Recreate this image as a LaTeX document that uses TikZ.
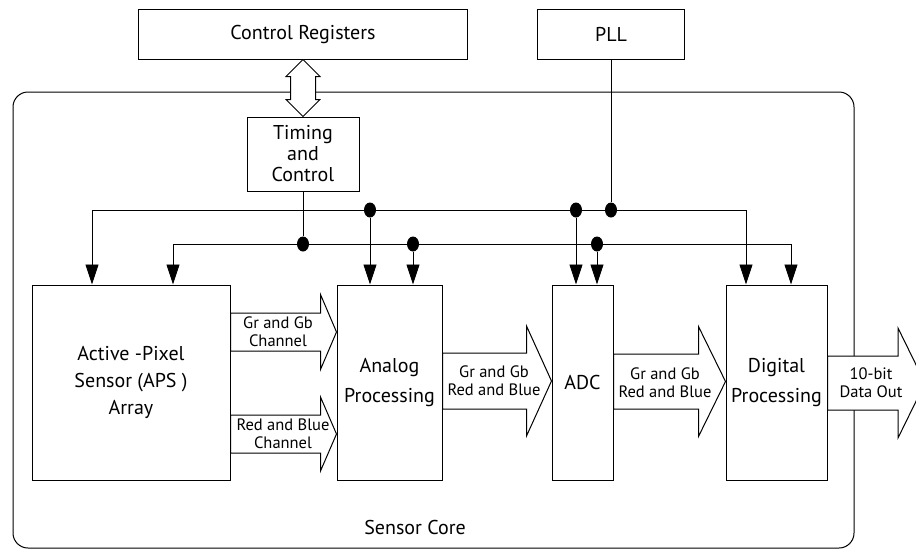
\documentclass[tikz,border=0pt]{standalone}
\usepackage{fontspec}
\setmainfont{PT Sans}
\usetikzlibrary{shapes}
\usetikzlibrary{calc}
\usetikzlibrary{arrows.meta}
\tikzset{
    blockn/.style = {rectangle, draw=black, line width=1pt, fill=white, align=center, inner sep=0pt, font=\fontsize{20}{21}\selectfont},
    dotn/.style = {ellipse, fill=black, minimum width=12pt, minimum height=15pt, inner sep=0pt},
    edgen/.style = {-{Triangle[length=20pt,width=13pt]}, line width=0.9pt},
    busn/.style = {line width=0.9pt},
    fatn/.style = {draw=black, fill=white, line width=1pt, line join=miter},
    smalln/.style = {align=center, inner sep=0pt, font=\fontsize{16.5}{18}\selectfont},
}
% fat arrow: from, to, y, shaft half, head half, head length
\newcommand{\fatarrow}[6]{%
  \draw[fatn] ($(#1 |- 0,#3)+(0,#4)$) -- ($(#2 |- 0,#3)+(-#6,#4)$)
    -- ($(#2 |- 0,#3)+(-#6,#5)$) -- (#2 |- 0,#3)
    -- ($(#2 |- 0,#3)+(-#6,-#5)$) -- ($(#2 |- 0,#3)+(-#6,-#4)$)
    -- ($(#1 |- 0,#3)+(0,-#4)$) -- cycle;}

\begin{document}
\begin{tikzpicture}[x=1pt, y=-1pt]
  \useasboundingbox (0,0) rectangle (916,552);

  % sensor core frame
  \node[draw=black, line width=1pt, rounded corners=15pt, minimum width=841pt, minimum height=456pt, inner sep=0pt] (core) at (433.5,320) {};
  \node[inner sep=0pt, font=\fontsize{20}{21}\selectfont] (corelabel) at (415,527) {Sensor Core};

  % blocks
  \node[blockn, minimum width=329pt, minimum height=50pt] (creg) at (303,34) {Control Registers};
  \node[blockn, minimum width=147pt, minimum height=50pt] (pll) at (611,34) {PLL};
  \node[blockn, minimum width=112pt, minimum height=74pt] (timing) at (303,154) {Timing\\and\\Control};
  \node[blockn, minimum width=198pt, minimum height=195pt, font=\fontsize{20}{27}\selectfont] (aps) at (131,382.5) {Active -Pixel\\Sensor (APS )\\Array};
  \node[blockn, minimum width=105pt, minimum height=195pt, font=\fontsize{20}{30}\selectfont] (analog) at (389.5,382.5) {Analog\\Processing};
  \node[blockn, minimum width=61pt, minimum height=195pt] (adc) at (582.5,382.5) {ADC};
  \node[blockn, minimum width=101pt, minimum height=195pt, font=\fontsize{20}{30}\selectfont] (digital) at (776.5,382.5) {Digital\\Processing};

  % control registers <-> timing
  \draw[fatn] (creg.south) -- ++(17,17) -- ++(-4.5,0) -- ($(timing.north)+(12.5,-17)$)
    -- ++(4.5,0) -- (timing.north) -- ++(-17,-17) -- ++(4.5,0)
    -- ($(creg.south)+(-12.5,17)$) -- ++(-4.5,0) -- cycle;

  % buses
  \coordinate (ul) at (92,210);
  \coordinate (ur) at (746,210);
  \coordinate (ll) at (173,244);
  \coordinate (lr) at (791,244);
  \draw[busn] (ul) -- (ur);
  \draw[busn] (ll) -- (lr);
  \node[dotn] (u1) at (370,210) {};
  \node[dotn] (u2) at (576,210) {};
  \node[dotn] (u3) at (611,210) {};
  \node[dotn] (l1) at (303,244) {};
  \node[dotn] (l2) at (413,244) {};
  \node[dotn] (l3) at (597,244) {};
  \draw[busn] (timing.south) -- (l1);
  \draw[busn] (pll.south) -- (u3);

  \draw[edgen] (ul) -- (ul |- aps.north);
  \draw[edgen] (ll) -- (ll |- aps.north);
  \draw[edgen] (u1) -- (u1 |- analog.north);
  \draw[edgen] (l2) -- (l2 |- analog.north);
  \draw[edgen] (u2) -- (u2 |- adc.north);
  \draw[edgen] (l3) -- (l3 |- adc.north);
  \draw[edgen] (ur) -- (ur |- digital.north);
  \draw[edgen] (lr) -- (lr |- digital.north);

  % data paths
  \coordinate (outtip) at (925,383);
  \fatarrow{aps.east}{analog.west}{332}{19}{37.5}{16}
  \fatarrow{aps.east}{analog.west}{434}{19}{37}{16}
  \fatarrow{analog.east}{adc.west}{381}{28}{55}{25}
  \fatarrow{adc.east}{digital.west}{381.5}{27.5}{55}{27}
  \fatarrow{digital.east}{outtip}{383}{27}{55}{27}

  \node[smalln] (gglabel) at (278,332) {Gr and Gb\\Channel};
  \node[smalln] (rblabel) at (283,434) {Red and Blue\\Channel};
  \node[smalln] (analoglabel) at (494,381) {Gr and Gb\\Red and Blue};
  \node[smalln] (adclabel) at (665,383) {Gr and Gb\\Red and Blue};
  \node[smalln] (outlabel) at (871,383) {10-bit\\Data Out};
\end{tikzpicture}
\end{document}
